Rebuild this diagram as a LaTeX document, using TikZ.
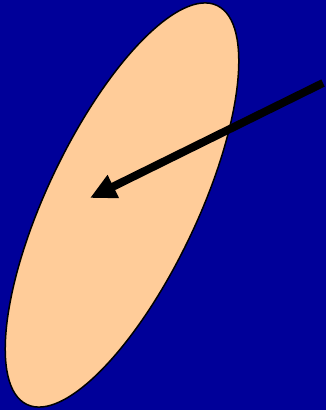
\documentclass[tikz,border=0pt]{standalone}
\usetikzlibrary{arrows.meta}
\definecolor{bgblue}{RGB}{0,0,153}
\definecolor{peach}{RGB}{255,204,153}
\tikzset{
  blob/.style={fill=peach, draw=black, line width=1.5pt},
  pointer/.style={draw=black, line width=8pt, line cap=butt, -{Triangle[length=26pt,width=24pt]}}
}
\begin{document}
\begin{tikzpicture}[x=1pt,y=1pt]
  \fill[bgblue] (0,0) rectangle (326,410);
  \useasboundingbox (0,0) rectangle (326,410);
  \coordinate (c) at (122,205);
  \draw[blob, rotate around={64.5:(c)}] (c) ellipse [x radius=221, y radius=75];
  \coordinate (start) at (323,327);
  \coordinate (tip) at (90,212);
  \draw[pointer] (start) -- (tip);
\end{tikzpicture}
\end{document}
